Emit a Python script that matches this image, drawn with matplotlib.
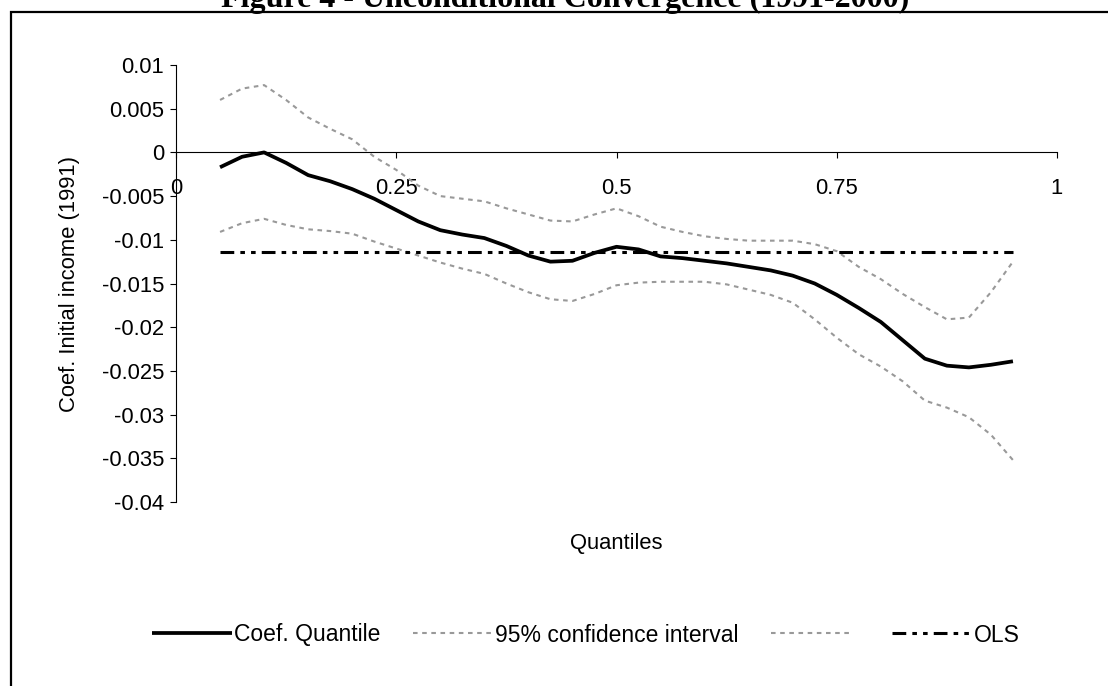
import matplotlib
matplotlib.use("Agg")
import matplotlib.pyplot as plt
from matplotlib.patches import Rectangle

plt.rcParams["font.family"] = ["Liberation Sans", "DejaVu Sans"]

quantiles = [0.05, 0.075, 0.1, 0.125, 0.15, 0.175, 0.2, 0.225, 0.25, 0.275,
             0.3, 0.325, 0.35, 0.375, 0.4, 0.425, 0.45, 0.475, 0.5, 0.525,
             0.55, 0.575, 0.6, 0.625, 0.65, 0.675, 0.7, 0.725, 0.75, 0.775,
             0.8, 0.825, 0.85, 0.875, 0.9, 0.925, 0.95]

coef_quantile = [-0.0017, -0.0005, 0.0000, -0.0012, -0.0026, -0.0033, -0.0042,
                 -0.0053, -0.0066, -0.0079, -0.0089, -0.0094, -0.0098, -0.0107,
                 -0.0118, -0.0125, -0.0124, -0.0115, -0.0108, -0.0111, -0.0119,
                 -0.0121, -0.0124, -0.0127, -0.0131, -0.0135, -0.0141, -0.0150,
                 -0.0163, -0.0178, -0.0194, -0.0215, -0.0236, -0.0244, -0.0246,
                 -0.0243, -0.0239]

ci_upper = [0.0060, 0.0073, 0.0077, 0.0060, 0.0040, 0.0027, 0.0015, -0.0005,
            -0.0020, -0.0038, -0.0050, -0.0053, -0.0056, -0.0064, -0.0071,
            -0.0078, -0.0079, -0.0071, -0.0064, -0.0073, -0.0085, -0.0091,
            -0.0096, -0.0099, -0.0101, -0.0101, -0.0101, -0.0105, -0.0113,
            -0.0131, -0.0145, -0.0162, -0.0177, -0.0191, -0.0189, -0.0160,
            -0.0125]

ci_lower = [-0.0091, -0.0081, -0.0076, -0.0083, -0.0088, -0.0090, -0.0093,
            -0.0102, -0.0110, -0.0118, -0.0126, -0.0133, -0.0139, -0.0150,
            -0.0160, -0.0168, -0.0170, -0.0162, -0.0152, -0.0149, -0.0148,
            -0.0148, -0.0148, -0.0151, -0.0157, -0.0163, -0.0172, -0.0191,
            -0.0212, -0.0231, -0.0245, -0.0262, -0.0284, -0.0292, -0.0303,
            -0.0323, -0.0352]

ols_coef = -0.0114

x_ticks = [0, 0.25, 0.5, 0.75, 1]
x_tick_labels = ["0", "0.25", "0.5", "0.75", "1"]
y_ticks = [0.01, 0.005, 0, -0.005, -0.01, -0.015, -0.02, -0.025, -0.03, -0.035, -0.04]
y_tick_labels = ["0.01", "0.005", "0", "-0.005", "-0.01", "-0.015", "-0.02",
                 "-0.025", "-0.03", "-0.035", "-0.04"]

FS = 15.8
LEG_FS = 16.5

fig = plt.figure(figsize=(11.08, 6.86), dpi=100)
ax = fig.add_axes([176 / 1108, 1 - 502 / 686, (1057 - 176) / 1108, (502 - 65) / 686])

ax.plot(quantiles, coef_quantile, color="black", lw=2.7,
        solid_capstyle="butt", label="Coef. Quantile")
ax.plot(quantiles, ci_upper, color="#999999", lw=1.5,
        linestyle=(0, (2.2, 2.2)), label="95% confidence interval")
ax.plot(quantiles, ci_lower, color="#999999", lw=1.5,
        linestyle=(0, (2.2, 2.2)), label=" ")
ax.plot([quantiles[0], quantiles[-1]], [ols_coef, ols_coef], color="black", lw=2.2,
        linestyle=(0, (4.5, 2, 1.5, 2, 1.5, 2)), label="OLS")

ax.spines["top"].set_visible(False)
ax.spines["right"].set_visible(False)
# x axis crosses at zero; this resets the tick setup, so ticks come after
ax.spines["bottom"].set_position(("data", 0))
ax.spines["bottom"].set_linewidth(0.8)
ax.spines["left"].set_linewidth(0.8)

ax.set_xlim(0, 1)
ax.set_ylim(-0.04, 0.01)
ax.set_xticks(x_ticks)
ax.set_xticklabels(x_tick_labels)
ax.set_yticks(y_ticks)
ax.set_yticklabels(y_tick_labels)
ax.tick_params(axis="x", direction="out", length=4.5, width=0.8, pad=14, labelsize=FS)
ax.tick_params(axis="y", direction="out", length=4.5, width=0.8, pad=4, labelsize=FS)

ax.set_ylabel("Coef. Initial income (1991)", fontsize=FS)
ax.yaxis.set_label_coords(-0.109, 0.5)
fig.text(616 / 1108, 1 - 543 / 686, "Quantiles", fontsize=FS, ha="center", va="center")

fig.legend(loc="center", bbox_to_anchor=(586 / 1108, 1 - 635 / 686), ncol=4,
           frameon=False, fontsize=LEG_FS, handlelength=3.5, handletextpad=0.1,
           columnspacing=1.4)

# outer frame of the figure panel
fig.patches.append(Rectangle((11 / 1108, -0.1), 1.2, 1 - 12 / 686 + 0.1,
                             transform=fig.transFigure, fill=False,
                             edgecolor="black", lw=1.6, clip_on=False))

fig.text(565 / 1108, 1 - 7 / 686, "Figure 4 - Unconditional Convergence (1991-2000)",
         family="Liberation Serif", weight="bold", fontsize=23,
         ha="center", va="baseline")

fig.savefig("out.png", dpi=100)
